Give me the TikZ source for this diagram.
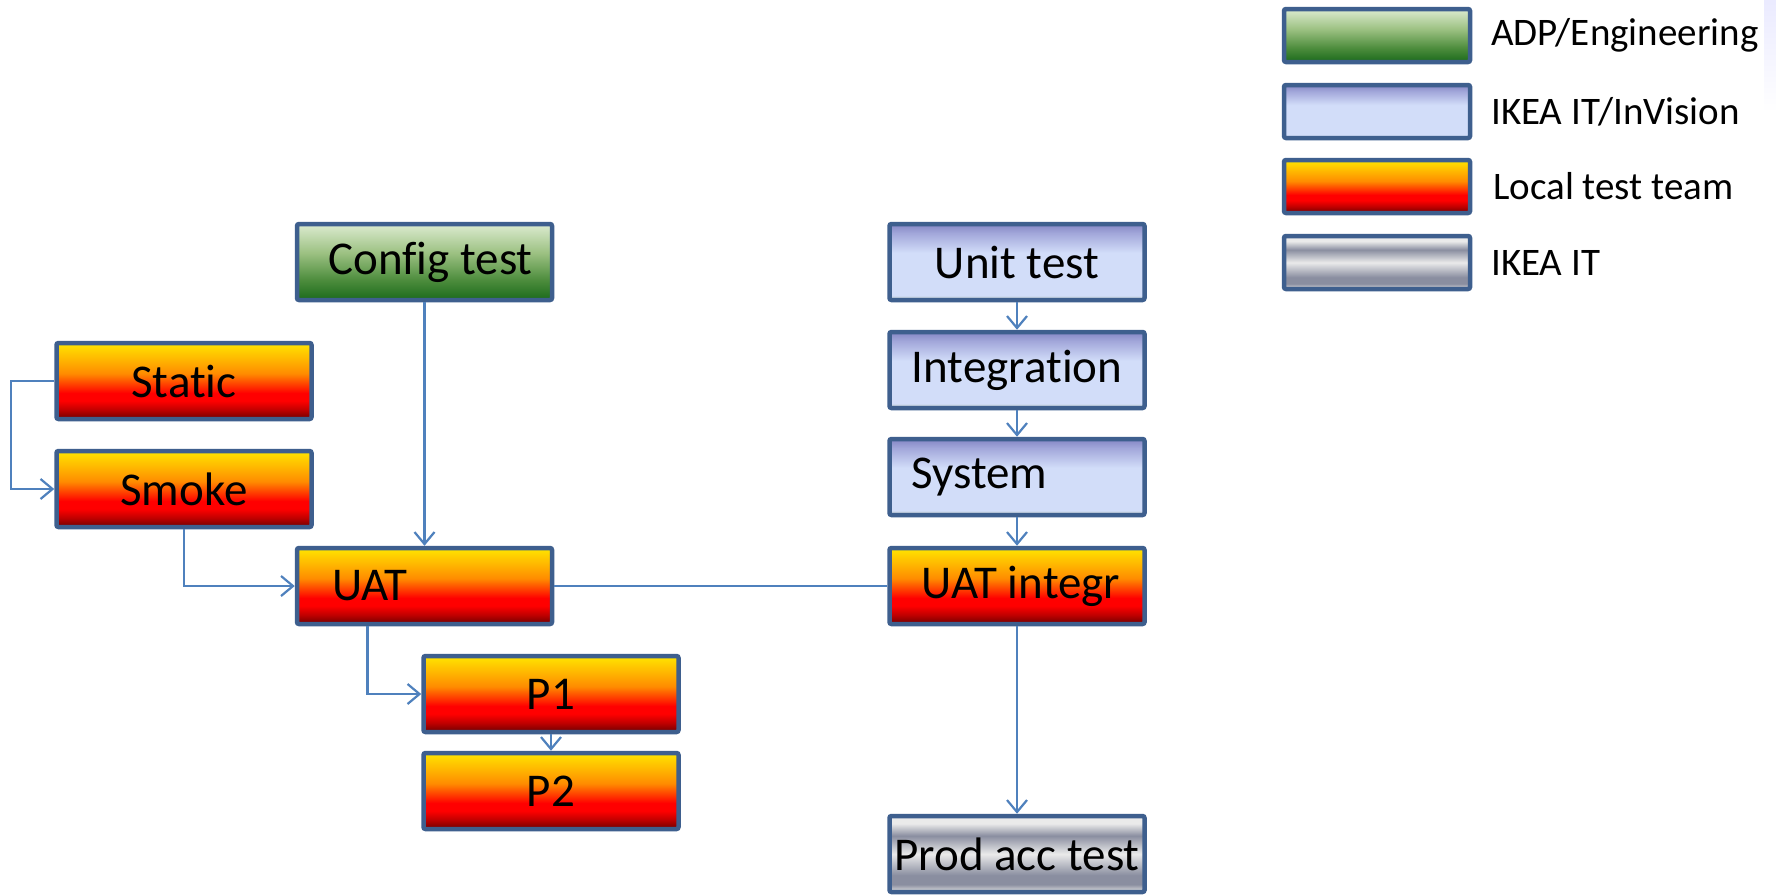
\documentclass[tikz,border=0pt]{standalone}
\usepackage{fontspec}
\setmainfont{Carlito}[Ligatures=NoCommon]
\usetikzlibrary{arrows.meta}

% palette
\definecolor{edge}{HTML}{3E5F8E}
\definecolor{wire}{HTML}{4F81BD}
\definecolor{gA}{HTML}{1B6A1B}
\definecolor{gB}{HTML}{4C8C3C}
\definecolor{gC}{HTML}{9CC182}
\definecolor{gD}{HTML}{DCEBD0}
\definecolor{bA}{HTML}{A9B9B2}
\definecolor{bB}{HTML}{D2DDF9}
\definecolor{bC}{HTML}{A2A7DA}
\definecolor{bD}{HTML}{8486C4}
\definecolor{oA}{HTML}{6E0000}
\definecolor{oB}{HTML}{C00000}
\definecolor{oC}{HTML}{FF0000}
\definecolor{oD}{HTML}{FF8C00}
\definecolor{oE}{HTML}{FFE600}
\definecolor{sA}{HTML}{E4E4E4}
\definecolor{sB}{HTML}{8A8EA0}
\definecolor{sC}{HTML}{EAEAEA}

% vertical fills (bottom at 25bp, top at 75bp)
\pgfdeclareverticalshading{engfill}{100bp}{color(0bp)=(gA); color(25bp)=(gA); color(38bp)=(gB); color(56bp)=(gC); color(75bp)=(gD); color(100bp)=(gD)}
\pgfdeclareverticalshading{visfill}{100bp}{color(0bp)=(bA); color(25bp)=(bA); color(28bp)=(bB); color(56bp)=(bB); color(69bp)=(bC); color(75bp)=(bD); color(100bp)=(bD)}
\pgfdeclareverticalshading{locfill}{100bp}{color(0bp)=(oA); color(25bp)=(oA); color(31bp)=(oB); color(37bp)=(oC); color(42bp)=(oC); color(55bp)=(oD); color(75bp)=(oE); color(100bp)=(oE)}
\pgfdeclareverticalshading{itfill}{100bp}{color(0bp)=(sA); color(25bp)=(sA); color(30bp)=(sB); color(36bp)=(sB); color(50bp)=(sC); color(62bp)=(sB); color(70bp)=(sC); color(75bp)=(sC); color(100bp)=(sC)}

\tikzset{
  box/.style={draw=edge, line width=4.5pt, rounded corners=2pt,
    minimum width=255pt, minimum height=76pt, inner sep=0pt,
    font=\fontsize{47}{54}\selectfont, text=black},
  eng/.style={box, shading=engfill},
  vis/.style={box, shading=visfill},
  loc/.style={box, shading=locfill},
  itb/.style={box, shading=itfill},
  key/.style={minimum width=186pt, minimum height=53pt},
  keytext/.style={anchor=west, inner sep=0pt, font=\fontsize{39}{46}\selectfont},
  link/.style={draw=wire, line width=2.2pt},
  flow/.style={link, -{Straight Barb[length=12pt,width=20pt,line width=2.2pt]}}
}

\begin{document}
\begin{tikzpicture}[x=1pt, y=-1pt]
\useasboundingbox (0,0) rectangle (1776,894);
\fill[white] (0,0) rectangle (1776,894);
\shade[top color=blue!8, bottom color=white] (1764,0) rectangle (1776,112);

% left branch
\node[eng] (config) at (424.5,262) {\hspace{12pt}Config test};
\node[loc] (static) at (184,381) {Static};
\node[loc] (smoke)  at (184,489) {Smoke};
\node[loc, text width=185pt, align=left, inner xsep=35pt] (uat) at (424.5,586) {UAT};
\node[loc] (p1) at (551,694) {P1};
\node[loc] (p2) at (551,791) {P2};

% right branch
\node[vis] (unit)  at (1017,262) {Unit test};
\node[vis] (integ) at (1017,370) {Integration};
\node[vis, text width=211pt, align=left, inner xsep=22pt] (system) at (1017,477) {System};
\node[loc] (uati) at (1017,586) {\hspace{8pt}UAT integr};
\node[itb] (prod) at (1017,854) {Prod acc test};

% legend
\node[eng, key] (kEng) at (1377,35.5) {};
\node[vis, key] (kVis) at (1377,111.5) {};
\node[loc, key] (kLoc) at (1377,186.5) {};
\node[itb, key] (kIt)  at (1377,262.5) {};
\node[keytext] (tEng) at (1491,35.5)  {ADP/Engineering};
\node[keytext] (tVis) at (1491,111.5) {IKEA IT/InVision};
\node[keytext] (tLoc) at (1493,186.5) {Local test team};
\node[keytext] (tIt)  at (1491,262.5) {IKEA IT};

% connectors
\coordinate (bend) at (11,381);
\draw[flow] (static.west) -- (bend) |- (smoke.west);
\draw[flow] (smoke.south) |- (uat.west);
\draw[flow] (config.south) -- (uat.north);
\draw[flow] ([xshift=-57pt]uat.south) |- (p1.west);
\draw[flow] (p1.south) -- (p2.north);
\draw[link] (uat.east) -- (uati.west);
\draw[flow] (unit.south) -- (integ.north);
\draw[flow] (integ.south) -- (system.north);
\draw[flow] (system.south) -- (uati.north);
\draw[flow] (uati.south) -- (prod.north);
\end{tikzpicture}
\end{document}
